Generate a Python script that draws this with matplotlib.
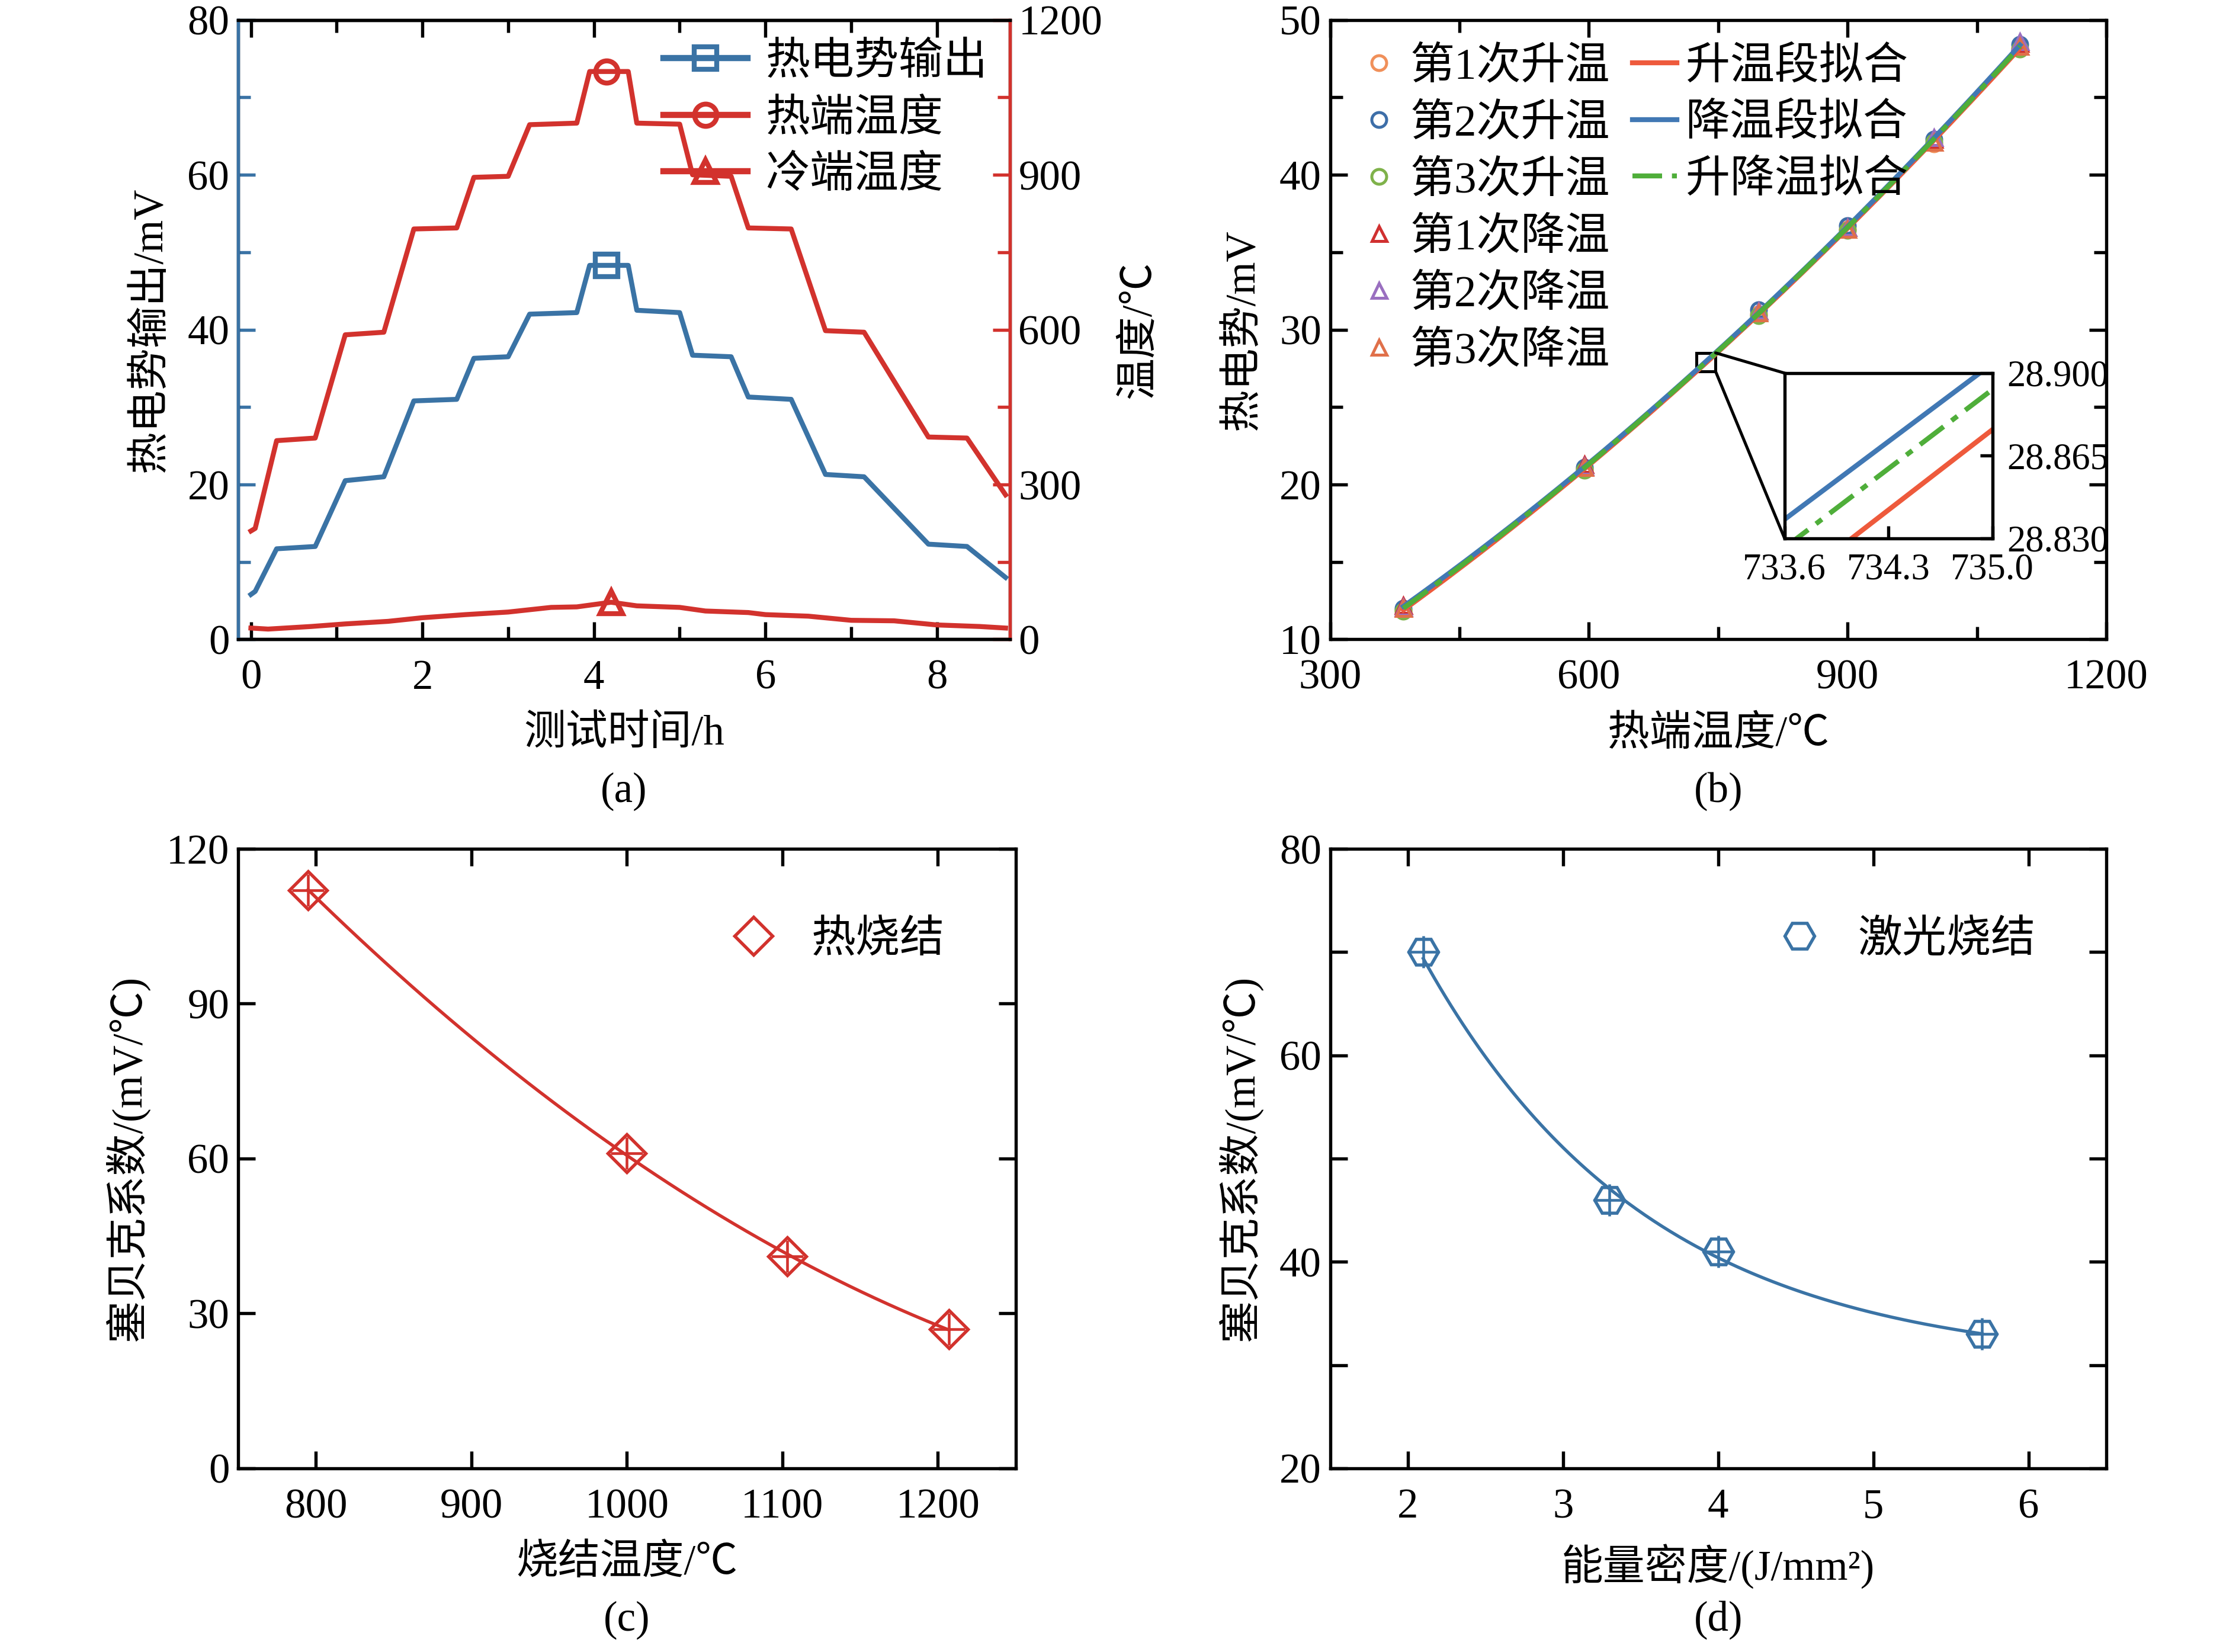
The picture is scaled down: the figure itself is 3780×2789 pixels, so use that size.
import numpy as np
import matplotlib
matplotlib.use('Agg')
import matplotlib.pyplot as plt
from matplotlib.patches import Rectangle, ConnectionPatch
from matplotlib.lines import Line2D
from matplotlib.ticker import AutoMinorLocator

plt.rcParams['font.family'] = ['Liberation Serif', 'Noto Sans CJK SC']
plt.rcParams['font.size'] = 17
plt.rcParams['axes.linewidth'] = 1.3
plt.rcParams['xtick.direction'] = 'in'
plt.rcParams['ytick.direction'] = 'in'
plt.rcParams['xtick.major.pad'] = 8
plt.rcParams['axes.labelpad'] = 7

# ---- (a) 测试时间曲线 (读图折点)
t_hot = [0, 0.05, 0.3, 0.75, 1.1, 1.55, 1.9, 2.4, 2.6, 3.0, 3.25, 3.8, 3.95, 4.4, 4.5, 5.0, 5.15, 5.6, 5.8,
         6.3, 6.7, 7.15, 7.9, 8.35, 8.8]
hot_temp = [210, 215, 385, 390, 590, 595, 795, 797, 895, 897, 997, 1000, 1100, 1100, 1000, 998, 900, 897,
            797, 795, 598, 595, 392, 390, 280]
emf = [5.8, 6.2, 11.7, 12, 20.5, 21, 30.8, 31, 36.3, 36.5, 42, 42.2, 48.3, 48.3, 42.5, 42.2, 36.7, 36.5,
       31.3, 31, 21.3, 21, 12.3, 12, 8]
t_cold = [0, 0.2, 0.7, 1.1, 1.6, 2.0, 2.5, 3.0, 3.5, 3.8, 4.2, 4.5, 5.0, 5.3, 5.8, 6.0, 6.5, 7.0, 7.5, 8.0,
          8.5, 8.8]
cold_temp = [22, 20, 25, 30, 35, 42, 48, 53, 62, 63, 72, 65, 62, 55, 52, 48, 45, 37, 36, 28, 25, 22]

# ---- (b) 热电势-热端温度
T_pts = [385, 595, 797, 900, 1000, 1100]
up_runs = {
    '第1次升温': [11.9, 21.0, 31.0, 36.5, 42.0, 48.2],
    '第2次升温': [12.0, 21.1, 31.3, 36.7, 42.3, 48.4],
    '第3次升温': [11.8, 20.9, 30.9, 36.4, 42.1, 48.1],
}
down_runs = {
    '第1次降温': [12.2, 21.3, 31.2, 36.6, 42.3, 48.5],
    '第2次降温': [12.1, 21.2, 31.2, 36.6, 42.4, 48.6],
    '第3次降温': [12.0, 21.1, 31.1, 36.5, 42.1, 48.3],
}
run_colors = ['#f0905a', '#3d6ea8', '#7fb24a', '#d03030', '#9a6fc0', '#e0704a']
fit_names = ['升温段拟合', '降温段拟合', '升降温拟合']
fit_colors = ['#ee5a3c', '#4178b4', '#4fae3a']
inset_x = [733.6, 735.0]
inset_fit = {'升温段拟合': [28.808, 28.876], '降温段拟合': [28.838, 28.904], '升降温拟合': [28.826, 28.893]}

# ---- (c)(d)
sinter_T = [795, 1000, 1103, 1207]
seebeck_hot = [112, 61, 41, 27]
energy = [2.1, 3.3, 4.0, 5.7]
seebeck_laser = [70, 46, 41, 33]

fig = plt.figure(figsize=(12.6, 9.297), dpi=300)
W, H = 1552, 1160


def box(l, r, t, b):
    return [l / W, 1 - b / H, (r - l) / W, (b - t) / H]


def panel_tag(a, s):
    a.text(0.5, -0.245, s, transform=a.transAxes, ha='center', va='center')


red = '#d2322d'
blue = '#3a73a5'

# (a)
ax = fig.add_axes(box(165, 700, 14, 449))
ax2 = ax.twinx()
ax.plot(t_hot, emf, color=blue, lw=2)
ax2.plot(t_hot, hot_temp, color=red, lw=2)
ax2.plot(t_cold, cold_temp, color=red, lw=2)
ax.plot([4.15], [48.3], 's', mfc='none', mec=blue, ms=9, mew=2)
ax2.plot([4.15], [1100], 'o', mfc='none', mec=red, ms=9, mew=2)
ax2.plot([4.2], [72], '^', mfc='none', mec=red, ms=9, mew=2)
ax.set_xlim(-0.15, 8.85)
ax.set_ylim(0, 80)
ax2.set_ylim(0, 1200)
ax.set_xticks([0, 2, 4, 6, 8])
ax.set_yticks([0, 20, 40, 60, 80])
ax2.set_yticks([0, 300, 600, 900, 1200])
ax.xaxis.set_minor_locator(AutoMinorLocator(2))
ax.yaxis.set_minor_locator(AutoMinorLocator(2))
ax2.yaxis.set_minor_locator(AutoMinorLocator(2))
ax.tick_params(which='both', top=True, length=5, width=1.3)
ax.tick_params(which='major', length=7)
ax.tick_params(axis='y', colors=blue, labelcolor='black', which='both')
ax2.tick_params(axis='y', colors=red, labelcolor='black', which='both', length=5, width=1.3)
ax2.tick_params(which='major', length=7)
ax2.spines['left'].set_color(blue)
ax2.spines['right'].set_color(red)
ax.set_xlabel('测试时间/h')
ax.set_ylabel('热电势输出/mV')
ax2.set_ylabel('温度/℃')
h = [Line2D([], [], color=blue, lw=2.5, marker='s', mfc='none', ms=9, mew=2),
     Line2D([], [], color=red, lw=2.5, marker='o', mfc='none', ms=9, mew=2),
     Line2D([], [], color=red, lw=2.5, marker='^', mfc='none', ms=9, mew=2)]
ax.legend(h, ['热电势输出', '热端温度', '冷端温度'], loc='upper right', frameon=False,
          handlelength=1.9, borderaxespad=0.1, labelspacing=0.35, handletextpad=0.4, fontsize=18)
panel_tag(ax, '(a)')

# (b)
bx = fig.add_axes(box(922, 1460, 14, 449))
hs, ls = [], []
for (name, vals), c in zip(list(up_runs.items()), run_colors[:3]):
    hh, = bx.plot(T_pts, vals, 'o', mfc='none', mec=c, ms=6, mew=1.2)
    hs.append(hh); ls.append(name)
for (name, vals), c in zip(list(down_runs.items()), run_colors[3:]):
    hh, = bx.plot(T_pts, vals, '^', mfc='none', mec=c, ms=6, mew=1.2)
    hs.append(hh); ls.append(name)
up_mean = np.mean(list(up_runs.values()), axis=0)
down_mean = np.mean(list(down_runs.values()), axis=0)
all_mean = (up_mean + down_mean) / 2
xx = np.linspace(T_pts[0], T_pts[-1], 200)
fh = []
dashdot = (0, (6, 2, 1.5, 2))
for ys, c, ls_ in zip([up_mean, down_mean, all_mean], fit_colors, ['-', '-', dashdot]):
    hh, = bx.plot(xx, np.polyval(np.polyfit(T_pts, ys, 2), xx), color=c, lw=2, ls=ls_)
    fh.append(hh)
blank = [Line2D([], [], ls='none')] * 3
bx.set_xlim(300, 1200)
bx.set_ylim(10, 50)
bx.set_xticks([300, 600, 900, 1200])
bx.set_yticks([10, 20, 30, 40, 50])
bx.xaxis.set_minor_locator(AutoMinorLocator(2))
bx.yaxis.set_minor_locator(AutoMinorLocator(2))
bx.tick_params(which='both', top=True, right=True, width=1.3, length=5)
bx.tick_params(which='major', length=7)
bx.set_xlabel('热端温度/℃')
bx.set_ylabel('热电势/mV')
bx.legend(hs + fh + blank, ls + fit_names + [''] * 3, ncol=2, loc='upper left', frameon=False,
          handlelength=1.0, columnspacing=0.5, labelspacing=0.35, handletextpad=0.2,
          borderaxespad=0.2, fontsize=18)
panel_tag(bx, '(b)')
# 局部放大
ins = fig.add_axes(box(1237, 1381, 262, 378))
for name, c, ls_ in zip(fit_names, fit_colors, ['-', '-', dashdot]):
    ins.plot(inset_x, inset_fit[name], color=c, lw=2, ls=ls_)
ins.set_xlim(733.6, 735.0)
ins.set_ylim(28.830, 28.900)
ins.set_xticks([733.6, 734.3, 735.0])
ins.set_xticklabels(['733.6', '734.3', '735.0'])
ins.set_yticks([28.830, 28.865, 28.900])
ins.set_yticklabels(['28.830', '28.865', '28.900'])
ins.yaxis.tick_right()
ins.tick_params(labelsize=15, length=5, width=1.3, direction='in', pad=6)
bx.add_patch(Rectangle((725, 27.3), 22, 1.2, fill=False, lw=1.2, ec='black'))
for p_main, p_ins in [((747, 28.5), (0, 1)), ((747, 27.3), (0, 0))]:
    fig.add_artist(ConnectionPatch(xyA=p_main, coordsA=bx.transData, xyB=p_ins, coordsB=ins.transAxes,
                                   color='black', lw=1.2))

# (c)
cx = fig.add_axes(box(165, 704, 596, 1031))
xs = np.linspace(sinter_T[0], sinter_T[-1], 200)
cx.plot(xs, np.polyval(np.polyfit(sinter_T, seebeck_hot, 2), xs), color=red, lw=1.3)
cx.plot(sinter_T, seebeck_hot, 'D', mfc='none', mec=red, ms=11, mew=1.3)
cx.plot(sinter_T, seebeck_hot, '+', color=red, ms=13, mew=1.1)
hd = Line2D([], [], marker='D', ls='none', mfc='none', mec=red, ms=11, mew=1.3)
cx.legend([hd], ['热烧结'], loc='upper right', frameon=False, borderaxespad=1.2, fontsize=18,
          handletextpad=0.3)
cx.set_xlim(750, 1250)
cx.set_ylim(0, 120)
cx.set_xticks([800, 900, 1000, 1100, 1200])
cx.set_yticks([0, 30, 60, 90, 120])
cx.tick_params(which='both', top=True, right=True, width=1.3, length=7)
cx.set_xlabel('烧结温度/℃')
cx.set_ylabel('塞贝克系数/(mV/℃)')
panel_tag(cx, '(c)')

# (d)
dx = fig.add_axes(box(922, 1460, 596, 1031))
xs = np.linspace(energy[0], energy[-1], 200)
cf = np.polyfit(energy, np.log(np.array(seebeck_laser) - 30), 2)
dx.plot(xs, 30 + np.exp(np.polyval(cf, xs)), color=blue, lw=1.3)
dx.plot(energy, seebeck_laser, 'H', mfc='none', mec=blue, ms=12, mew=1.3)
dx.plot(energy, seebeck_laser, '+', color=blue, ms=13, mew=1.1)
hh = Line2D([], [], marker='H', ls='none', mfc='none', mec=blue, ms=12, mew=1.3)
dx.legend([hh], ['激光烧结'], loc='upper right', frameon=False, borderaxespad=1.2, fontsize=18,
          handletextpad=0.3)
dx.set_xlim(1.5, 6.5)
dx.set_ylim(20, 80)
dx.set_xticks([2, 3, 4, 5, 6])
dx.set_yticks([20, 40, 60, 80])
dx.yaxis.set_minor_locator(AutoMinorLocator(2))
dx.tick_params(which='both', top=True, right=True, width=1.3, length=7)
dx.set_xlabel('能量密度/(J/mm²)')
dx.set_ylabel('塞贝克系数/(mV/℃)')
panel_tag(dx, '(d)')

fig.savefig('out.png', dpi=300)
